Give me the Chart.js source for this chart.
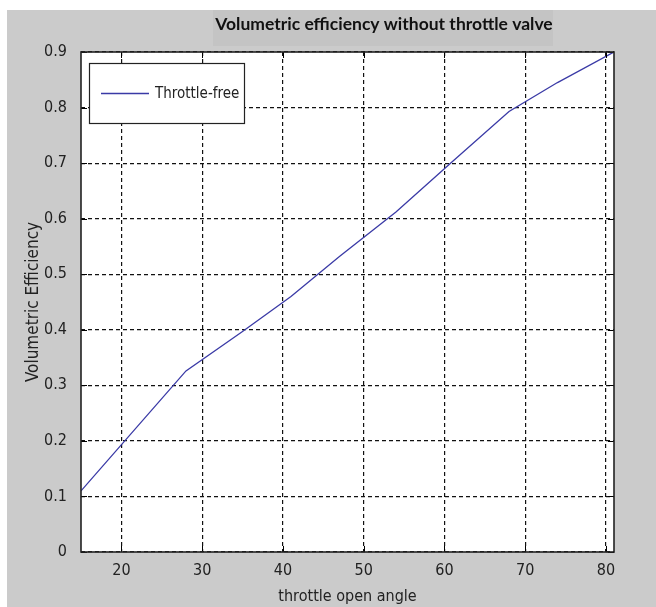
<!DOCTYPE html>
<html>
<head>
<meta charset="utf-8">
<script src="https://cdn.jsdelivr.net/npm/chart.js@4.4.1/dist/chart.umd.min.js"></script>
<style>
  html, body { margin: 0; padding: 0; background: #ffffff; }
  #wrap { position: absolute; left: 7px; top: 10px; width: 649px; height: 597px; }
</style>
</head>
<body>
<div id="wrap"><canvas id="grafico" width="649" height="597"></canvas></div>
<script>
const tituloGrafico = 'Volumetric efficiency without throttle valve';
const rotuloSerie = 'Throttle-free';
const rotuloX = 'throttle open angle';
const rotuloY = 'Volumetric Efficiency';

const angulos = [15, 28, 35, 41, 47, 54, 61, 68, 74, 81];
const eficiencia = [0.11, 0.326, 0.397, 0.46, 0.532, 0.612, 0.703, 0.793, 0.845, 0.90];

const ticksX = [20, 30, 40, 50, 60, 70, 80];
const ticksY = [0, 0.1, 0.2, 0.3, 0.4, 0.5, 0.6, 0.7, 0.8, 0.9];

const fonteEixo = "'Liberation Sans Narrow', 'DejaVu Sans Condensed', 'Liberation Sans', sans-serif";
const corFundo = '#cbcbcb';
const corLinha = '#3a3aa6';

// moldura estilo matlab: fundo cinza, caixa do titulo, ticks internos e legenda
const moldura = {
    id: 'moldura',
    beforeDraw(chart) {
        const { ctx, chartArea: a } = chart;
        ctx.save();
        ctx.fillStyle = corFundo;
        ctx.fillRect(0, 0, chart.width, chart.height);
        ctx.fillStyle = '#c4c4c4';
        ctx.fillRect(206, 0, 340, 36);
        ctx.fillStyle = '#111';
        ctx.font = "bold 17.5px Lato, 'Open Sans', sans-serif";
        ctx.textAlign = 'center';
        ctx.textBaseline = 'middle';
        ctx.fillText(tituloGrafico, 377, 14);
        ctx.fillStyle = '#ffffff';
        ctx.fillRect(a.left, a.top, a.right - a.left, a.bottom - a.top);
        ctx.restore();
    },
    afterDraw(chart) {
        const { ctx, chartArea: a, scales } = chart;
        ctx.save();
        ctx.strokeStyle = '#000';
        ctx.lineWidth = 1;
        ctx.beginPath();
        ticksX.forEach((v) => {
            const x = Math.round(scales.x.getPixelForValue(v)) + 0.5;
            ctx.moveTo(x, a.bottom); ctx.lineTo(x, a.bottom - 6);
            ctx.moveTo(x, a.top); ctx.lineTo(x, a.top + 6);
        });
        ticksY.forEach((v) => {
            const y = Math.round(scales.y.getPixelForValue(v)) + 0.5;
            ctx.moveTo(a.left, y); ctx.lineTo(a.left + 6, y);
            ctx.moveTo(a.right, y); ctx.lineTo(a.right - 6, y);
        });
        ctx.stroke();
        ctx.strokeStyle = '#222';
        ctx.lineWidth = 1.6;
        ctx.strokeRect(a.left, a.top, a.right - a.left, a.bottom - a.top);

        // legenda
        const lx = a.left + 8, ly = a.top + 11;
        ctx.fillStyle = '#ffffff';
        ctx.fillRect(lx, ly, 155, 60);
        ctx.lineWidth = 1.2;
        ctx.strokeStyle = '#222';
        ctx.strokeRect(lx + 0.5, ly + 0.5, 155, 60);
        const ds = chart.data.datasets[0];
        ctx.strokeStyle = ds.borderColor;
        ctx.lineWidth = 1.3;
        ctx.beginPath();
        ctx.moveTo(lx + 12, ly + 30.5);
        ctx.lineTo(lx + 60, ly + 30.5);
        ctx.stroke();
        ctx.fillStyle = '#222';
        ctx.font = '15px ' + fonteEixo;
        ctx.textAlign = 'left';
        ctx.textBaseline = 'middle';
        ctx.fillText(ds.label, lx + 66, ly + 31);
        ctx.restore();
    }
};

const ctx = document.getElementById('grafico').getContext('2d');
new Chart(ctx, {
    type: 'line',
    data: {
        datasets: [{
            label: rotuloSerie,
            data: angulos.map((a, i) => ({ x: a, y: eficiencia[i] })),
            borderColor: corLinha,
            borderWidth: 1.3,
            pointRadius: 0,
            tension: 0,
            fill: false
        }]
    },
    options: {
        responsive: false,
        animation: false,
        layout: { padding: { top: 42, right: 42, left: 0, bottom: 0 } },
        plugins: {
            legend: { display: false },
            title: { display: false },
            tooltip: { enabled: false }
        },
        scales: {
            x: {
                type: 'linear',
                min: 15,
                max: 81,
                afterBuildTicks: (s) => { s.ticks = ticksX.map((v) => ({ value: v })); },
                afterFit: (s) => { s.height = 55; },
                grid: { color: '#111', lineWidth: 1.2, drawTicks: false },
                border: { display: false, dash: [4, 3] },
                ticks: { color: '#222', padding: 9, font: { family: fonteEixo, size: 16 } },
                title: {
                    display: true, text: rotuloX, color: '#222',
                    padding: { top: 0, bottom: 1 },
                    font: { family: fonteEixo, size: 16 }
                }
            },
            y: {
                min: 0,
                max: 0.9,
                afterBuildTicks: (s) => { s.ticks = ticksY.map((v) => ({ value: v })); },
                afterFit: (s) => { s.width = 74; },
                grid: { color: '#111', lineWidth: 1.2, drawTicks: false },
                border: { display: false, dash: [4, 3] },
                ticks: {
                    color: '#222', padding: 14,
                    font: { family: fonteEixo, size: 16 },
                    callback: (v) => String(v)
                },
                title: {
                    display: true, text: rotuloY, color: '#222',
                    padding: { top: 16, bottom: 0 },
                    font: { family: fonteEixo, size: 17 }
                }
            }
        }
    },
    plugins: [moldura]
});
</script>
</body>
</html>
